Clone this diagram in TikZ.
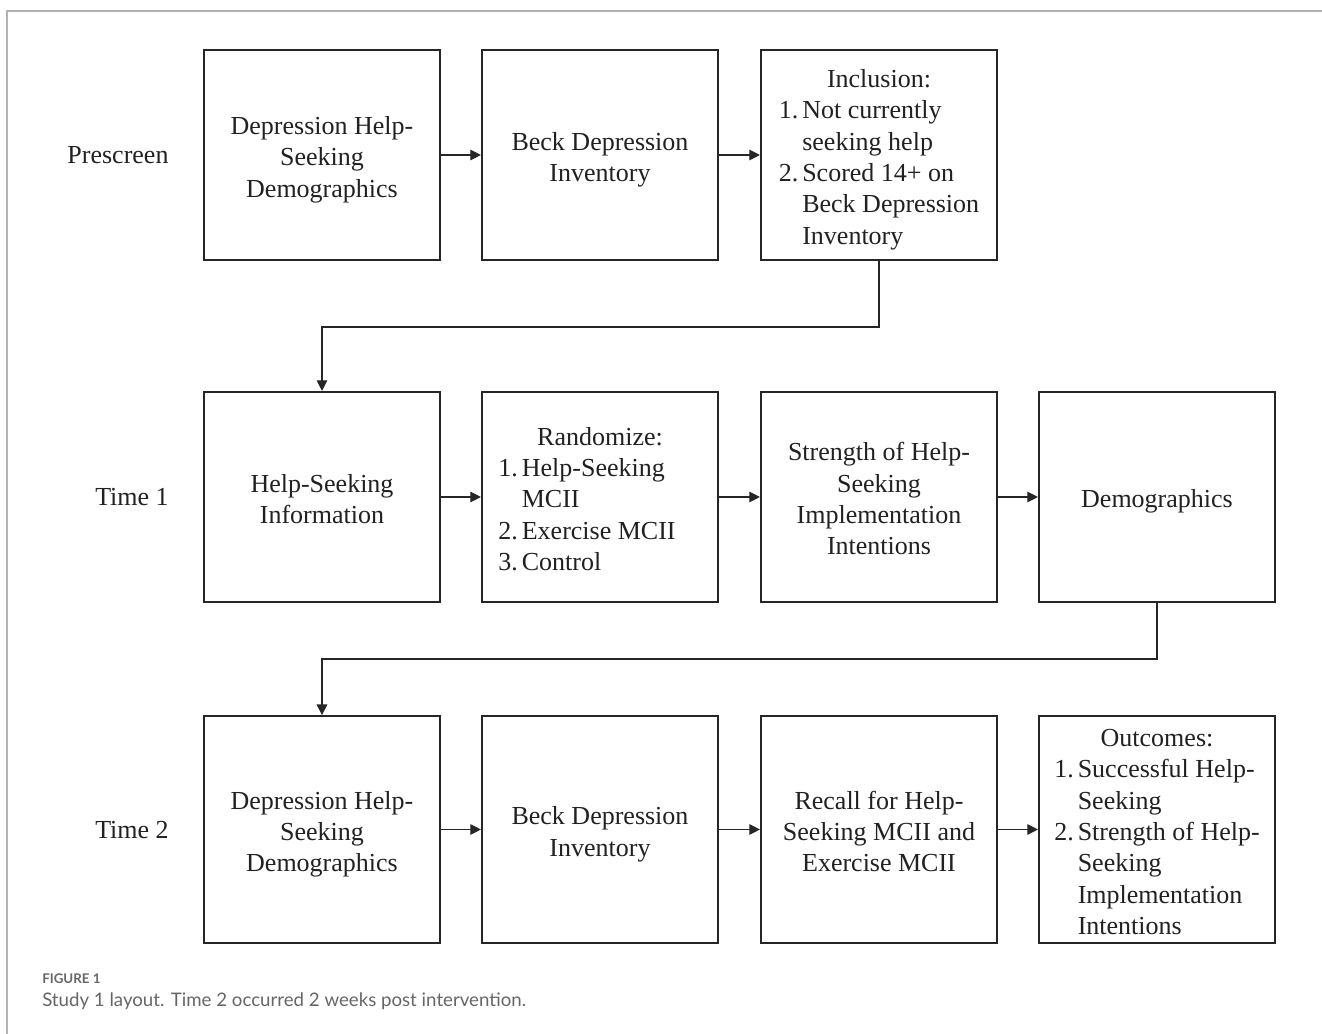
\documentclass[tikz,border=0pt]{standalone}
\usepackage{fontspec}
\setmainfont{Liberation Serif}
\newfontfamily\capfont{Lato}
\usetikzlibrary{positioning,arrows.meta}

\newcommand{\lowerby}[1]{\raisebox{-3.5pt}[\height][\depth]{#1}}
\newcommand{\boxlines}[1]{\lowerby{\begin{tabular}{@{}c@{}}#1\end{tabular}}}

\begin{document}
\begin{tikzpicture}[x=0.75pt,y=-0.75pt,
  every node/.style={font=\fontsize{19.5}{23.5}\selectfont, text=black!87},
  box/.style={draw=black!85, line width=1.6pt, minimum width=177pt, minimum height=157.5pt, align=center, inner sep=2pt},
  tallbox/.style={box, minimum height=170pt},
  link/.style={draw=black!85, line width=0.9pt, -{Triangle[length=8pt,width=8pt]}}]
\useasboundingbox (0,0) rectangle (1322,1034);
\draw[black!30, line width=1.2pt] (1322,11) -- (7,11) -- (7,1034);
% row labels
\node (pre) at (118,155) {Prescreen};
\node (t1) at (132,497) {Time 1};
\node (t2) at (132,830) {Time 2};
% prescreen
\node[box] (dhs1) at (322,155) {\boxlines{Depression Help-\\Seeking\\Demographics}};
\node[box] (bdi1) at (600,155) {\boxlines{Beck Depression\\Inventory}};
\node[box] (incl) at (879,155) {\lowerby{\begin{tabular}{@{}r@{\hspace{3pt}}l@{}}
  \multicolumn{2}{c}{Inclusion:}\\
  1. & Not currently\\
     & seeking help\\
  2. & Scored 14+ on\\
     & Beck Depression\\
     & Inventory
  \end{tabular}}};
% time 1
\node[box] (info) at (322,497) {\boxlines{Help-Seeking\\Information}};
\node[box] (rand) at (600,497) {\lowerby{\begin{tabular}{@{}r@{\hspace{3pt}}l@{\hspace{19.5pt}}}
  \multicolumn{2}{c}{Randomize:}\\
  1. & Help-Seeking\\
     & MCII\\
  2. & Exercise MCII\\
  3. & Control
  \end{tabular}}};
\node[box] (shsi) at (879,497) {\boxlines{Strength of Help-\\Seeking\\Implementation\\Intentions}};
\node[box] (demo) at (1157,497) {\boxlines{Demographics}};
% time 2
\node[tallbox] (dhs2) at (322,829.5) {\boxlines{Depression Help-\\Seeking\\Demographics}};
\node[tallbox] (bdi2) at (600,829.5) {\boxlines{Beck Depression\\Inventory}};
\node[tallbox] (recall) at (879,829.5) {\boxlines{Recall for Help-\\Seeking MCII and\\Exercise MCII}};
\node[tallbox] (outc) at (1157,829.5) {\lowerby{\begin{tabular}{@{}r@{\hspace{3pt}}l@{}}
  \multicolumn{2}{c}{Outcomes:}\\
  1. & Successful Help-\\
     & Seeking\\
  2. & Strength of Help-\\
     & Seeking\\
     & Implementation\\
     & Intentions
  \end{tabular}}};
% connectors
\draw[link] (dhs1) -- (bdi1);
\draw[link] (bdi1) -- (incl);
\draw[link] (incl.south) -- ++(0,66) -| (info.north);
\draw[link] (info) -- (rand);
\draw[link] (rand) -- (shsi);
\draw[link] (shsi) -- (demo);
\draw[link] (demo.south) -- ++(0,56) -| (dhs2.north);
\draw[link] (dhs2) -- (bdi2);
\draw[link] (bdi2) -- (recall);
\draw[link] (recall) -- (outc);
% caption
\node[anchor=west, inner sep=0pt, text=black!60, font=\capfont\bfseries\fontsize{10}{12}\selectfont] (fig) at (42,979) {FIGURE 1};
\node[anchor=west, inner sep=0pt, text=black!60, font=\capfont\fontsize{14}{16}\selectfont] (cap) at (42,1001) {Study 1 layout. Time 2 occurred 2 weeks post intervention.};
\end{tikzpicture}
\end{document}
